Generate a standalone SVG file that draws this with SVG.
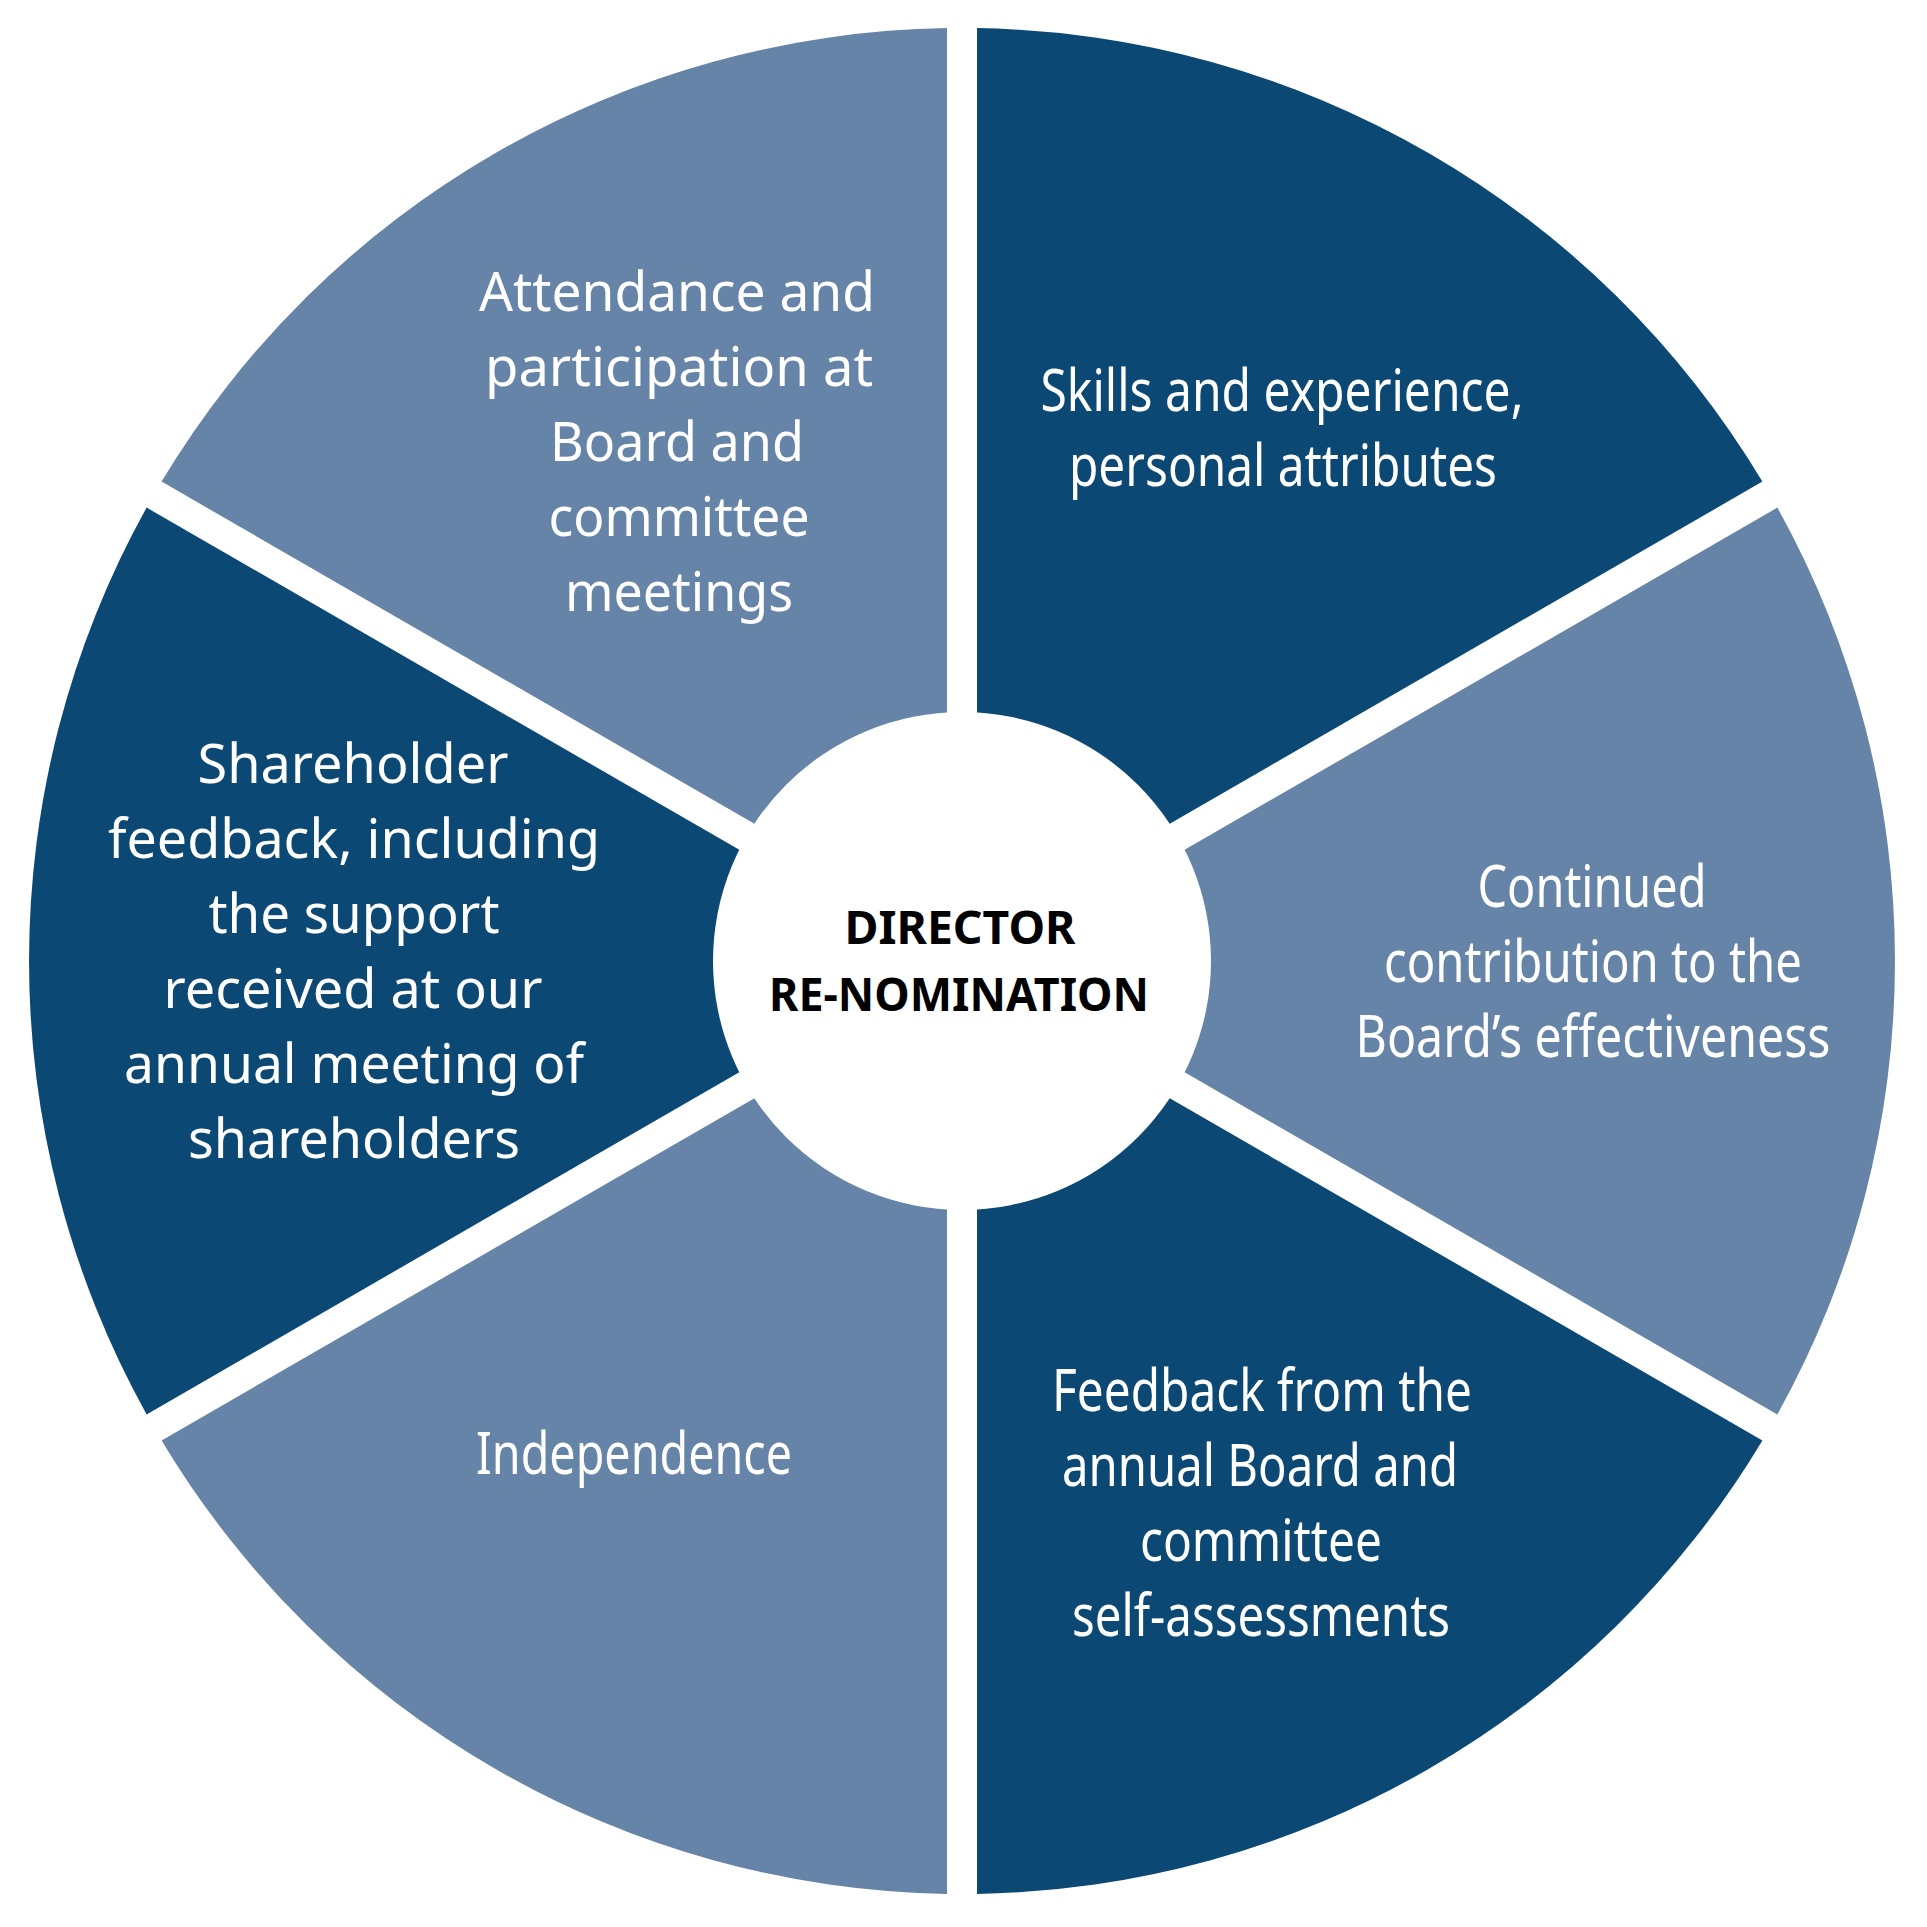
<svg xmlns="http://www.w3.org/2000/svg" width="1927" height="1927" viewBox="0 0 1927 1927">
<style>
.dark{fill:#0b4873}
.light{fill:#6684a7}
.lbl{fill:#ffffff;font-family:"Noto Sans","Open Sans","Liberation Sans",sans-serif;text-anchor:middle}
.wide{font-size:54px}
.cond{font-size:58px}
.hub{fill:#ffffff}
.hubtxt{fill:#000000;font-family:"Noto Sans","Liberation Sans",sans-serif;font-weight:700;font-size:46px;text-anchor:middle}
</style>
<rect x="0" y="0" width="1927" height="1927" fill="#ffffff"/>
<g id="connectors"></g>
<g id="node-skills">
<path class="dark" d="M 977 935 L 977 28.1 A 933 933 0 0 1 1762.4 481.6 Z"/>
<text class="lbl cond"><tspan x="1282" y="411" textLength="483" lengthAdjust="spacingAndGlyphs">Skills and experience,</tspan><tspan x="1283" y="486" textLength="428" lengthAdjust="spacingAndGlyphs">personal attributes</tspan></text>
</g>
<g id="node-contribution">
<path class="light" d="M 992 961 L 1777.4 507.6 A 933 933 0 0 1 1777.4 1414.4 Z"/>
<text class="lbl cond"><tspan x="1592" y="907" textLength="229" lengthAdjust="spacingAndGlyphs">Continued</tspan><tspan x="1593" y="982" textLength="418" lengthAdjust="spacingAndGlyphs">contribution to the</tspan><tspan x="1593" y="1057" textLength="475" lengthAdjust="spacingAndGlyphs">Board’s effectiveness</tspan></text>
</g>
<g id="node-feedback">
<path class="dark" d="M 977 987 L 1762.4 1440.4 A 933 933 0 0 1 977 1893.9 Z"/>
<text class="lbl cond"><tspan x="1262" y="1411" textLength="420" lengthAdjust="spacingAndGlyphs">Feedback from the</tspan><tspan x="1260" y="1486" textLength="396" lengthAdjust="spacingAndGlyphs">annual Board and</tspan><tspan x="1261" y="1561" textLength="242" lengthAdjust="spacingAndGlyphs">committee</tspan><tspan x="1261" y="1636" textLength="378" lengthAdjust="spacingAndGlyphs">self-assessments</tspan></text>
</g>
<g id="node-independence">
<path class="light" d="M 947 987 L 947 1893.9 A 933 933 0 0 1 161.6 1440.4 Z"/>
<text class="lbl cond"><tspan x="634" y="1474" textLength="316" lengthAdjust="spacingAndGlyphs">Independence</tspan></text>
</g>
<g id="node-shareholder">
<path class="dark" d="M 932 961 L 146.6 1414.4 A 933 933 0 0 1 146.6 507.6 Z"/>
<text class="lbl wide"><tspan x="353" y="783" textLength="311" lengthAdjust="spacingAndGlyphs">Shareholder</tspan><tspan x="354" y="858" textLength="492" lengthAdjust="spacingAndGlyphs">feedback, including</tspan><tspan x="354" y="933" textLength="291" lengthAdjust="spacingAndGlyphs">the support</tspan><tspan x="353" y="1008" textLength="379" lengthAdjust="spacingAndGlyphs">received at our</tspan><tspan x="354" y="1083" textLength="460" lengthAdjust="spacingAndGlyphs">annual meeting of</tspan><tspan x="354" y="1158" textLength="332" lengthAdjust="spacingAndGlyphs">shareholders</tspan></text>
</g>
<g id="node-attendance">
<path class="light" d="M 947 935 L 161.6 481.6 A 933 933 0 0 1 947 28.1 Z"/>
<text class="lbl wide"><tspan x="677" y="311" textLength="396" lengthAdjust="spacingAndGlyphs">Attendance and</tspan><tspan x="679" y="386" textLength="388" lengthAdjust="spacingAndGlyphs">participation at</tspan><tspan x="677" y="461" textLength="254" lengthAdjust="spacingAndGlyphs">Board and</tspan><tspan x="679" y="536" textLength="261" lengthAdjust="spacingAndGlyphs">committee</tspan><tspan x="679" y="611" textLength="228" lengthAdjust="spacingAndGlyphs">meetings</tspan></text>
</g>
<g id="node-center">
<circle class="hub" cx="962" cy="961" r="249"/>
<text class="hubtxt"><tspan x="960" y="944" textLength="231" lengthAdjust="spacingAndGlyphs">DIRECTOR</tspan><tspan x="959" y="1011" textLength="380" lengthAdjust="spacingAndGlyphs">RE-NOMINATION</tspan></text>
</g>
</svg>
